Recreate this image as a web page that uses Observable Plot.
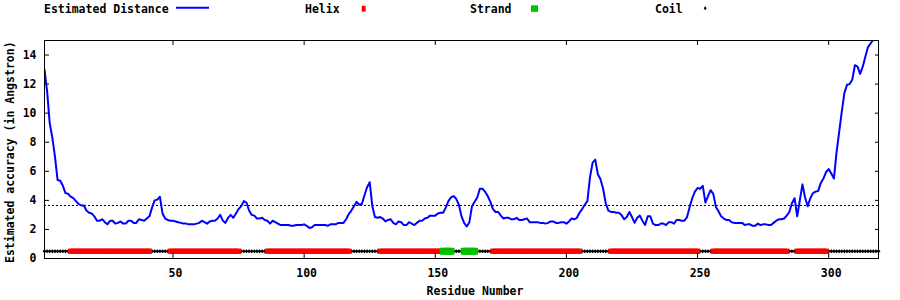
<!DOCTYPE html>
<html>
<head>
<meta charset="utf-8">
<script src="https://cdn.jsdelivr.net/npm/d3@7"></script>
<script src="https://cdn.jsdelivr.net/npm/@observablehq/plot@0.6"></script>
<style>
  html, body { margin: 0; padding: 0; background: #fff; }
  #legend svg, #chart svg { display: block; }
</style>
</head>
<body>
<div id="legend"></div>
<div id="chart"></div>
<script>
// ---- data ----
const distance = [
  13.0, 11.5, 9.3, 8.3, 7.0, 5.4, 5.35, 5.0, 4.5, 4.45,
  4.25, 4.15, 3.95, 3.75, 3.65, 3.65, 3.3, 3.15, 3.1, 2.9,
  2.6, 2.6, 2.7, 2.5, 2.35, 2.6, 2.6, 2.4, 2.45, 2.55,
  2.4, 2.4, 2.6, 2.6, 2.45, 2.45, 2.7, 2.65, 2.6, 2.75,
  2.9, 3.5, 4.0, 4.05, 4.25, 3.1, 2.75, 2.65, 2.6, 2.6,
  2.55, 2.5, 2.45, 2.4, 2.4, 2.35, 2.35, 2.35, 2.4, 2.45,
  2.6, 2.5, 2.4, 2.55, 2.6, 2.6, 2.75, 3.0, 2.6, 2.45,
  2.8, 3.0, 2.8, 3.1, 3.4, 3.6, 3.95, 3.85, 3.3, 3.0,
  2.95, 2.75, 2.75, 2.8, 2.65, 2.6, 2.4, 2.6, 2.5, 2.4,
  2.3, 2.3, 2.3, 2.3, 2.25, 2.25, 2.3, 2.3, 2.3, 2.35,
  2.25, 2.1, 2.15, 2.3, 2.3, 2.3, 2.3, 2.3, 2.25, 2.35,
  2.35, 2.35, 2.45, 2.45, 2.45, 2.7, 3.05, 3.3, 3.6, 3.9,
  3.7, 3.75, 4.35, 4.9, 5.25, 3.6, 2.85, 2.8, 2.85, 2.75,
  2.55, 2.65, 2.7, 2.45, 2.35, 2.55, 2.5, 2.3, 2.3, 2.5,
  2.4, 2.3, 2.45, 2.6, 2.6, 2.75, 2.8, 2.95, 2.95, 2.95,
  3.1, 3.15, 3.15, 3.5, 3.95, 4.2, 4.3, 4.1, 3.7, 2.9,
  2.45, 2.2, 2.5, 3.6, 3.9, 4.2, 4.8, 4.8, 4.6, 4.3,
  3.9, 3.4, 3.2, 3.2, 2.95, 2.75, 2.8, 2.8, 2.7, 2.7,
  2.8, 2.65, 2.65, 2.7, 2.75, 2.5, 2.5, 2.5, 2.5, 2.45,
  2.45, 2.4, 2.45, 2.55, 2.55, 2.45, 2.45, 2.5, 2.5, 2.4,
  2.55, 2.75, 2.7, 2.8, 3.15, 3.4, 3.7, 3.95, 5.6, 6.6,
  6.8, 5.8, 5.45, 4.8, 3.8, 3.3, 3.2, 3.2, 3.15, 3.15,
  3.0, 2.7, 2.85, 3.2, 2.85, 2.45, 2.8, 2.95, 2.6, 2.3,
  2.9, 2.9, 2.4, 2.3, 2.3, 2.4, 2.4, 2.3, 2.5, 2.5,
  2.4, 2.65, 2.65, 2.6, 2.6, 2.85, 3.55, 4.15, 4.6, 4.85,
  4.8, 5.0, 3.85, 4.3, 4.7, 4.45, 3.55, 3.25, 2.9, 2.75,
  2.65, 2.65, 2.5, 2.45, 2.45, 2.45, 2.45, 2.3, 2.35, 2.35,
  2.25, 2.25, 2.4, 2.3, 2.35, 2.35, 2.3, 2.3, 2.45, 2.6,
  2.7, 2.7, 2.75, 2.95, 3.2, 3.8, 4.15, 2.9, 4.0, 5.1,
  4.2, 3.6, 4.15, 4.5, 4.6, 4.65, 5.2, 5.5, 5.95, 6.15,
  5.85, 5.5, 7.3, 8.7, 10.1, 11.4, 11.95, 12.0, 12.3, 13.3,
  13.2, 12.7, 13.2, 13.9, 14.55, 14.8, 15.05, 15.3, 15.6
];
const residueCount = 319;
const helixStart  = [11, 49, 86, 129, 172, 217, 256, 288];
const helixEnd    = [41, 75, 117, 152, 205, 250, 284, 299];
const strandStart = [153, 161];
const strandEnd   = [156, 165];
const xTicks = [50, 100, 150, 200, 250, 300];
const yTicks = [0, 2, 4, 6, 8, 10, 12, 14];
const threshold = 3.65;
const ssLevel = 0.5;
const legendLabels = ["Estimated Distance", "Helix", "Strand", "Coil"];
const xLabel = "Residue Number";
const yLabel = "Estimated accuracy (in Angstron)";

// ---- derived tables ----
const residues = d3.range(1, residueCount + 1);
const lineData = residues.map((r, i) => ({r, d: distance[i]})).filter(p => p.d != null);
function expand(starts, ends) {
  return starts.flatMap((s, i) => d3.range(s, ends[i] + 1));
}
const helix = expand(helixStart, helixEnd);
const strand = expand(strandStart, strandEnd);
const ssSet = new Set([...helix, ...strand]);
const coil = residues.filter(r => !ssSet.has(r));

const FONT = '"DejaVu Sans Mono", "Liberation Mono", monospace';
const BLUE = "#0000ff", RED = "#ff0000", GREEN = "#00c000";

// ---- legend (SVG above the plot) ----
const lg = d3.select("#legend").append("svg")
  .attr("width", 900).attr("height", 30)
  .style("font-family", FONT).style("font-size", "11.5px").style("font-weight", "bold");
const legendX = [44, 305, 470, 655];
legendLabels.forEach((t, i) => {
  lg.append("text").attr("x", legendX[i]).attr("y", 12.7).attr("fill", "#000").text(t);
});
lg.append("line").attr("x1", 176).attr("x2", 209).attr("y1", 7.7).attr("y2", 7.7)
  .attr("stroke", BLUE).attr("stroke-width", 2);
lg.append("rect").attr("x", 361.7).attr("y", 5.7).attr("width", 4).attr("height", 6)
  .attr("rx", 1).attr("fill", RED);
lg.append("rect").attr("x", 531).attr("y", 5.3).attr("width", 7).attr("height", 6.5)
  .attr("fill", GREEN);
lg.append("path").attr("d", "M705.2,6.3L706.7,8.3L705.2,10.3L703.7,8.3Z").attr("fill", "#000");

// ---- plot ----
const chart = Plot.plot({
  width: 900,
  height: 270,
  marginTop: 10,
  marginBottom: 42,
  marginLeft: 44,
  marginRight: 22,
  x: {domain: [1, residueCount]},
  y: {domain: [0, 15]},
  style: {fontFamily: FONT, fontSize: "11.5px", fontWeight: "bold", color: "#000", background: "#fff"},
  marks: [
    Plot.ruleY([threshold], {stroke: "#000", strokeWidth: 1, strokeDasharray: "2,2"}),
    Plot.dot(coil, {x: d => d, y: ssLevel, symbol: "diamond2", r: 1.8, fill: "#000"}),
    Plot.dot(helix, {x: d => d, y: ssLevel, symbol: "square", r: 3, fill: RED}),
    Plot.dot(strand, {x: d => d, y: ssLevel, symbol: "square", r: 3.9, fill: GREEN}),
    Plot.line(lineData, {x: "r", y: "d", stroke: BLUE, strokeWidth: 2, clip: true}),
    Plot.frame({stroke: "#000"}),
    Plot.axisX(xTicks, {anchor: "bottom", tickSize: 0, tickPadding: 10, dx: 2.5, label: null}),
    Plot.axisX(xTicks, {anchor: "bottom", tickSize: -5, text: null, label: null}),
    Plot.axisX(xTicks, {anchor: "top", tickSize: -4, text: null, label: null}),
    Plot.axisY(yTicks, {anchor: "left", tickSize: 0, tickPadding: 8, label: null}),
    Plot.axisY(yTicks, {anchor: "left", tickSize: -5, text: null, label: null}),
    Plot.axisY(yTicks, {anchor: "right", tickSize: -4, text: null, label: null}),
    Plot.text([xLabel], {frameAnchor: "bottom", textAnchor: "middle", lineAnchor: "middle",
      dy: 33, dx: 13.5, text: d => d, fill: "#000"}),
    Plot.text([yLabel], {frameAnchor: "left", textAnchor: "middle", lineAnchor: "middle",
      dx: -34, dy: 2.7, rotate: -90, text: d => d, fill: "#000"})
  ]
});
document.getElementById("chart").appendChild(chart);
</script>
</body>
</html>
